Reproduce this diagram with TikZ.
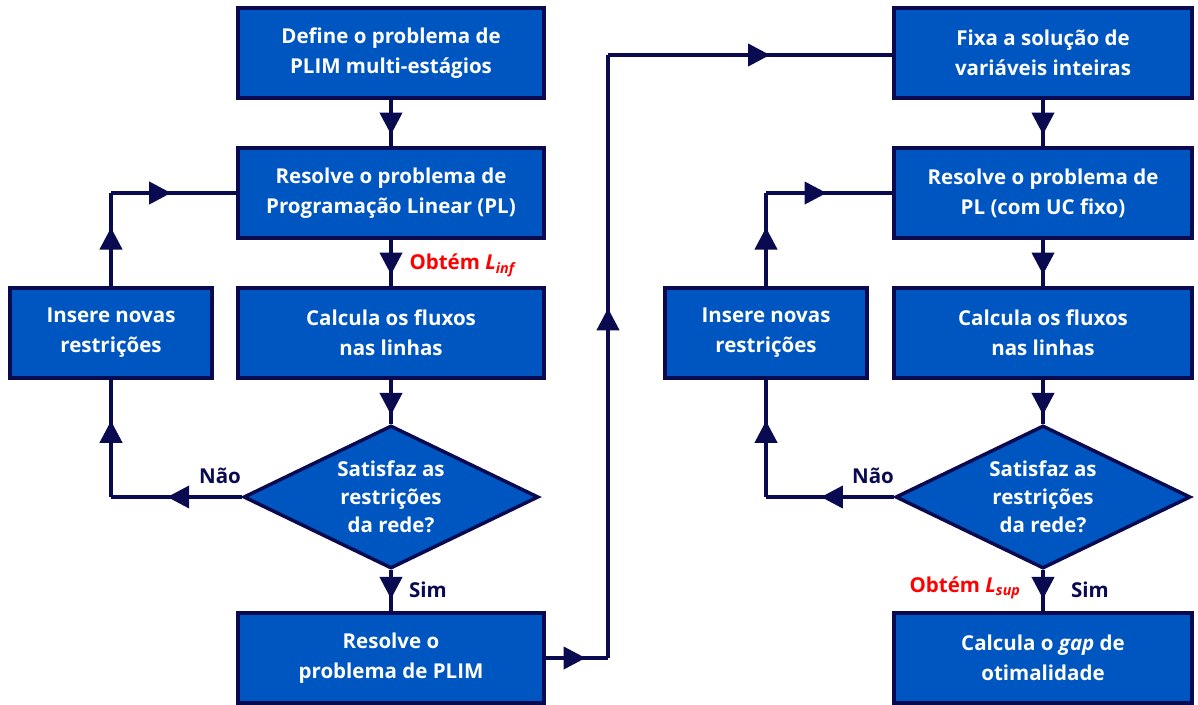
\documentclass[tikz,border=0pt]{standalone}
\usepackage{fontspec}
\setmainfont{Open Sans}
\usetikzlibrary{arrows.meta}
\usetikzlibrary{decorations.markings}
\usetikzlibrary{shapes.geometric}
\tikzset{->-/.style = {decoration={markings,
                                   mark=at position #1 with {\arrow{Triangle[length=22pt,width=22pt]}}},
                       postaction={decorate}}}
\definecolor{mnavy}{RGB}{10,10,80}
\definecolor{mbox}{RGB}{0,86,192}
\definecolor{mred}{RGB}{255,0,0}
\tikzset{box/.style = {rectangle, draw=mnavy, fill=mbox, line width=3.5pt, text=white,
                       align=center, minimum width=306pt, minimum height=90pt, inner sep=0pt,
                       font=\fontsize{20.5}{30}\selectfont\bfseries}}
\tikzset{test/.style = {diamond, aspect=2, draw=mnavy, fill=mbox, line width=3.5pt, text=white,
                        align=center, minimum width=295pt, minimum height=143pt, inner sep=0pt,
                        font=\fontsize{20.5}{28}\selectfont\bfseries}}
\tikzset{link/.style = {draw=mnavy, line width=4pt}}
\tikzset{tag/.style = {text=mnavy, font=\fontsize{20.5}{24}\selectfont\bfseries}}
\tikzset{gain/.style = {text=mred, font=\fontsize{20.5}{24}\selectfont\bfseries}}

\begin{document}
\begin{tikzpicture}[x=1pt, y=-1pt]
      \useasboundingbox (0, 0) rectangle (1198, 704);

      % left column
      \node [box] (define) at (391, 53) {Define o problema de\\PLIM multi-estágios};
      \node [box] (resolvePL) at (391, 193) {Resolve o problema de\\Programação Linear (PL)};
      \node [box] (fluxos) at (391, 333) {Calcula os fluxos\\nas linhas};
      \node [test] (satisfaz) at (391, 497) {Satisfaz as\\restrições\\da rede?};
      \node [box] (plim) at (391, 658) {Resolve o\\problema de PLIM};
      \node [box, minimum width=202pt] (insere) at (111, 333) {Insere novas\\restrições};

      % right column
      \node [box, minimum width=298pt] (fixa) at (1043, 53) {Fixa a solução de\\variáveis inteiras};
      \node [box, minimum width=298pt] (resolveUC) at (1043, 193) {Resolve o problema de\\PL (com UC fixo)};
      \node [box, minimum width=298pt] (fluxosR) at (1043, 333) {Calcula os fluxos\\nas linhas};
      \node [test] (satisfazR) at (1043, 497) {Satisfaz as\\restrições\\da rede?};
      \node [box, minimum width=298pt] (gap) at (1043, 658) {Calcula o \textit{gap} de\\otimalidade};
      \node [box, minimum width=202pt] (insereR) at (766, 333) {Insere novas\\restrições};

      \coordinate (naoL) at (111, 497);
      \coordinate (voltaL) at (111, 193);
      \coordinate (naoR) at (766, 497);
      \coordinate (voltaR) at (766, 193);
      \coordinate (sobeA) at (608, 658);
      \coordinate (sobeB) at (608, 55);

      \draw [link, ->-=0.75] (define) -- (resolvePL);
      \draw [link, ->-=0.75] (resolvePL) -- (fluxos);
      \draw [link, ->-=0.8] (fluxos) -- (satisfaz);
      \draw [link, ->-=0.7] (satisfaz) -- (plim);
      \draw [link, ->-=0.57] (satisfaz.west) -- (naoL);
      \draw [link, ->-=0.65] (naoL) -- (insere.south);
      \draw [link, ->-=0.63] (insere.north) -- (voltaL);
      \draw [link, ->-=0.48] (voltaL) -- (resolvePL.west);

      \draw [link, ->-=0.64] (plim.east) -- (sobeA);
      \draw [link, ->-=0.58] (sobeA) -- (sobeB);
      \draw [link, ->-=0.57] (sobeB) -- (fixa.west |- sobeB);

      \draw [link, ->-=0.75] (fixa) -- (resolveUC);
      \draw [link, ->-=0.75] (resolveUC) -- (fluxosR);
      \draw [link, ->-=0.8] (fluxosR) -- (satisfazR);
      \draw [link, ->-=0.7] (satisfazR) -- (gap);
      \draw [link, ->-=0.57] (satisfazR.west) -- (naoR);
      \draw [link, ->-=0.65] (naoR) -- (insereR.south);
      \draw [link, ->-=0.63] (insereR.north) -- (voltaR);
      \draw [link, ->-=0.48] (voltaR) -- (resolveUC.west);

      % labels
      \node [tag] (naoTag) at (220, 476) {Não};
      \node [tag] (simTag) at (428, 590) {Sim};
      \node [tag] (naoTagR) at (873, 476) {Não};
      \node [tag] (simTagR) at (1090, 590) {Sim};
      \node [gain, anchor=west] (linf) at (406, 265) {Obtém \textit{L}\textsubscript{\textit{inf}}};
      \node [gain, anchor=east] (lsup) at (1024, 588) {Obtém \textit{L}\textsubscript{\textit{sup}}};
    \end{tikzpicture}
\end{document}
